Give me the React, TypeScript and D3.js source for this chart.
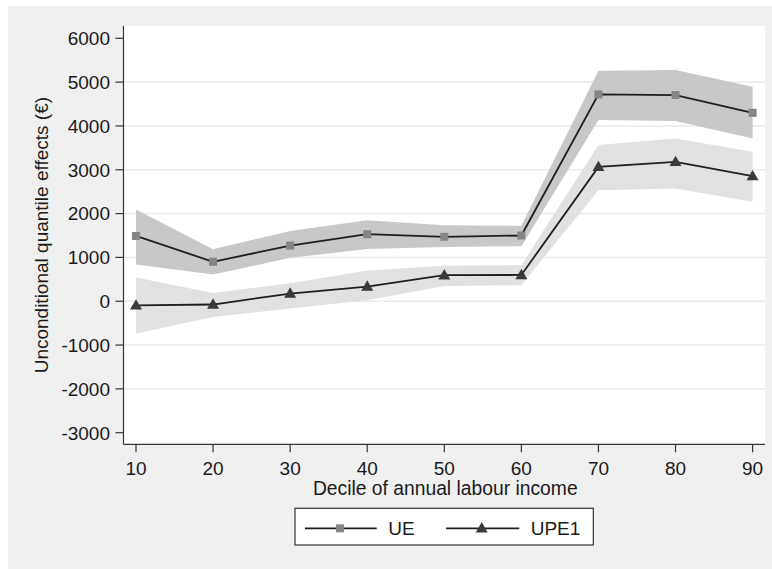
import React from "react";
import * as d3 from "d3";

const deciles = [10, 20, 30, 40, 50, 60, 70, 80, 90];
const ueValues = [1490, 900, 1270, 1530, 1470, 1500, 4720, 4705, 4300];
const ueLower = [840, 610, 990, 1190, 1240, 1256, 4134, 4110, 3716];
const ueUpper = [2094, 1188, 1600, 1850, 1736, 1720, 5260, 5276, 4895];
const upeValues = [-95, -75, 175, 335, 594, 600, 3065, 3180, 2855];
const upeLower = [-738, -360, -165, 23, 350, 365, 2535, 2574, 2268];
const upeUpper = [541, 190, 410, 700, 810, 822, 3563, 3716, 3410];
const yTicks = [6000, 5000, 4000, 3000, 2000, 1000, 0, -1000, -2000, -3000];
const xTicks = [10, 20, 30, 40, 50, 60, 70, 80, 90];
const seriesNames = ["UE", "UPE1"];

const W = 772;
const H = 569;
const plotL = 123.5;
const plotR = 765;
const plotT = 26;
const plotB = 444.3;
const FONT = "'Liberation Sans', Arial, sans-serif";

export default function App() {
  const x = d3.scaleLinear().domain([10, 90]).range([136, 752.6]);
  const y = d3.scaleLinear().domain([-3000, 6000]).range([432.7, 38.3]);

  const band = (lo: number[], hi: number[]) =>
    d3
      .area<number>()
      .x((d) => x(d))
      .y0((_, i) => y(lo[i]))
      .y1((_, i) => y(hi[i]))(deciles) || "";

  const line = (vals: number[]) =>
    d3
      .line<number>()
      .x((d) => x(d))
      .y((_, i) => y(vals[i]))(deciles) || "";

  const tri = (cx: number, cy: number, s: number) =>
    `M${cx},${cy - s * 0.62}L${cx + s * 0.6},${cy + s * 0.42}L${cx - s * 0.6},${cy + s * 0.42}Z`;

  return (
    <svg
      width={W}
      height={H}
      style={{ position: "absolute", left: 0, top: 0 }}
      fontFamily={FONT}
    >
      <rect x={0} y={0} width={W} height={H} fill="#ffffff" />
      <rect x={8} y={6} width={W - 8} height={H - 6} fill="#f0f0f0" />
      <rect x={plotL} y={plotT} width={plotR - plotL} height={plotB - plotT} fill="#ffffff" />
      {yTicks
        .filter((t) => t !== 6000 && t !== -3000)
        .map((t) => (
          <line
            key={"g" + t}
            x1={plotL}
            x2={plotR}
            y1={y(t)}
            y2={y(t)}
            stroke="#eaeaea"
            strokeWidth={1.5}
          />
        ))}
      <path d={band(ueLower, ueUpper)} fill="#c8c8c8" />
      <path d={band(upeLower, upeUpper)} fill="#e1e1e1" />
      <path d={line(ueValues)} fill="none" stroke="#1e1e1e" strokeWidth={1.8} />
      <path d={line(upeValues)} fill="none" stroke="#1e1e1e" strokeWidth={1.8} />
      {deciles.map((d, i) => (
        <rect
          key={"s" + d}
          x={x(d) - 4}
          y={y(ueValues[i]) - 4}
          width={8}
          height={8}
          fill="#858585"
        />
      ))}
      {deciles.map((d, i) => (
        <path key={"t" + d} d={tri(x(d), y(upeValues[i]), 10)} fill="#3a3a3a" />
      ))}
      <line x1={plotL} x2={plotL} y1={plotT} y2={plotB} stroke="#333" strokeWidth={1.2} />
      <line x1={plotL} x2={plotR} y1={plotB} y2={plotB} stroke="#333" strokeWidth={1.2} />
      {yTicks.map((t) => (
        <g key={"yt" + t}>
          <line x1={plotL - 8} x2={plotL} y1={y(t)} y2={y(t)} stroke="#333" strokeWidth={1.2} />
          <text
            x={110}
            y={y(t)}
            dy="0.36em"
            textAnchor="end"
            fontSize={19}
            fill="#1a1a1a"
          >
            {t}
          </text>
        </g>
      ))}
      {xTicks.map((t) => (
        <g key={"xt" + t}>
          <line x1={x(t)} x2={x(t)} y1={plotB} y2={plotB + 8} stroke="#333" strokeWidth={1.2} />
          <text x={x(t)} y={475} textAnchor="middle" fontSize={19} fill="#1a1a1a">
            {t}
          </text>
        </g>
      ))}
      <text
        x={(plotL + plotR) / 2 + 1}
        y={494.5}
        textAnchor="middle"
        fontSize={19.3}
        fill="#1a1a1a"
      >
        Decile of annual labour income
      </text>
      <text
        transform={`translate(48,${(plotT + plotB) / 2}) rotate(-90)`}
        textAnchor="middle"
        fontSize={19}
        fill="#1a1a1a"
      >
        Unconditional quantile effects (€)
      </text>
      <rect x={295} y={508.3} width={298.3} height={36.7} fill="#ffffff" stroke="#333" strokeWidth={1.2} />
      <line x1={305} x2={376.7} y1={528.3} y2={528.3} stroke="#1e1e1e" strokeWidth={1.8} />
      <rect x={340 - 4} y={528.3 - 4} width={8} height={8} fill="#858585" />
      <text x={388.3} y={535} fontSize={19} fill="#1a1a1a">
        {seriesNames[0]}
      </text>
      <line x1={446} x2={519.3} y1={528.3} y2={528.3} stroke="#1e1e1e" strokeWidth={1.8} />
      <path d={tri(481.7, 528.3, 10)} fill="#3a3a3a" />
      <text x={530.7} y={535} fontSize={19} fill="#1a1a1a">
        {seriesNames[1]}
      </text>
    </svg>
  );
}
